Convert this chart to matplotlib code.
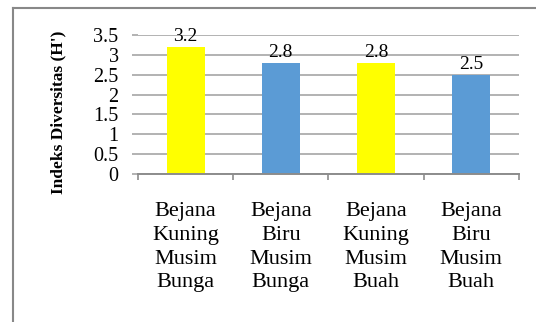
import matplotlib
matplotlib.use("Agg")
import matplotlib.pyplot as plt
from matplotlib.lines import Line2D

categories = ["Bejana\nKuning\nMusim\nBunga", "Bejana\nBiru\nMusim\nBunga",
              "Bejana\nKuning\nMusim\nBuah", "Bejana\nBiru\nMusim\nBuah"]
values = [3.2, 2.8, 2.8, 2.5]
bar_colors = ["#FFFF00", "#5B9BD5", "#FFFF00", "#5B9BD5"]
yticks = [0, 0.5, 1, 1.5, 2, 2.5, 3, 3.5]
ytick_labels = ["0", "0.5", "1", "1.5", "2", "2.5", "3", "3.5"]
ylabel = "Indeks Diversitas (H')"

plt.rcParams['font.family'] = ['Liberation Serif', 'DejaVu Serif']

fig = plt.figure(figsize=(5.36, 3.22), dpi=100)
ax = fig.add_axes([138/536, 1-174/322, (518.7-138)/536, (174-35)/322])

x = list(range(len(values)))
ax.bar(x, values, width=0.4, color=bar_colors, zorder=3)
for xi, v in zip(x, values):
    ax.annotate(f"{v}", (xi, v), xytext=(0, 1.5), textcoords="offset points",
                ha="center", va="bottom", fontsize=14)

ax.set_xlim(-0.5, len(values) - 0.5)
ax.set_ylim(0, 3.5)
ax.set_yticks(yticks)
ax.set_yticklabels(ytick_labels, fontsize=14.5)
ax.set_xticks([i - 0.5 for i in range(len(values) + 1)], minor=False)
ax.set_xticklabels([])
ax.set_xticks(x, minor=True)
ax.set_xticklabels(categories, minor=True, fontsize=16, linespacing=1.35)
ax.tick_params(axis='x', which='minor', length=0, pad=20)
ax.tick_params(axis='x', which='major', length=4, color="#8c8c8c", width=1.2)
ax.tick_params(axis='y', length=4, color="#a6a6a6", width=1.2, pad=10)
ax.grid(axis='y', color="#a6a6a6", linewidth=1.2, zorder=0)
for s in ["left", "right", "top"]:
    ax.spines[s].set_visible(False)
ax.spines["bottom"].set_color("#8c8c8c")
ax.spines["bottom"].set_linewidth(1.4)
ax.spines["bottom"].set_zorder(4)

fig.text(58/536, 1-112/322, ylabel, rotation=90, ha="center", va="center",
         fontsize=12.5, fontweight="bold")

fig.add_artist(Line2D([13/536, 13/536], [0, 1-8/322], color="#888888", linewidth=1.5))
fig.add_artist(Line2D([13/536, 1], [1-8/322, 1-8/322], color="#888888", linewidth=1.5))

fig.savefig("out.png", dpi=100)
